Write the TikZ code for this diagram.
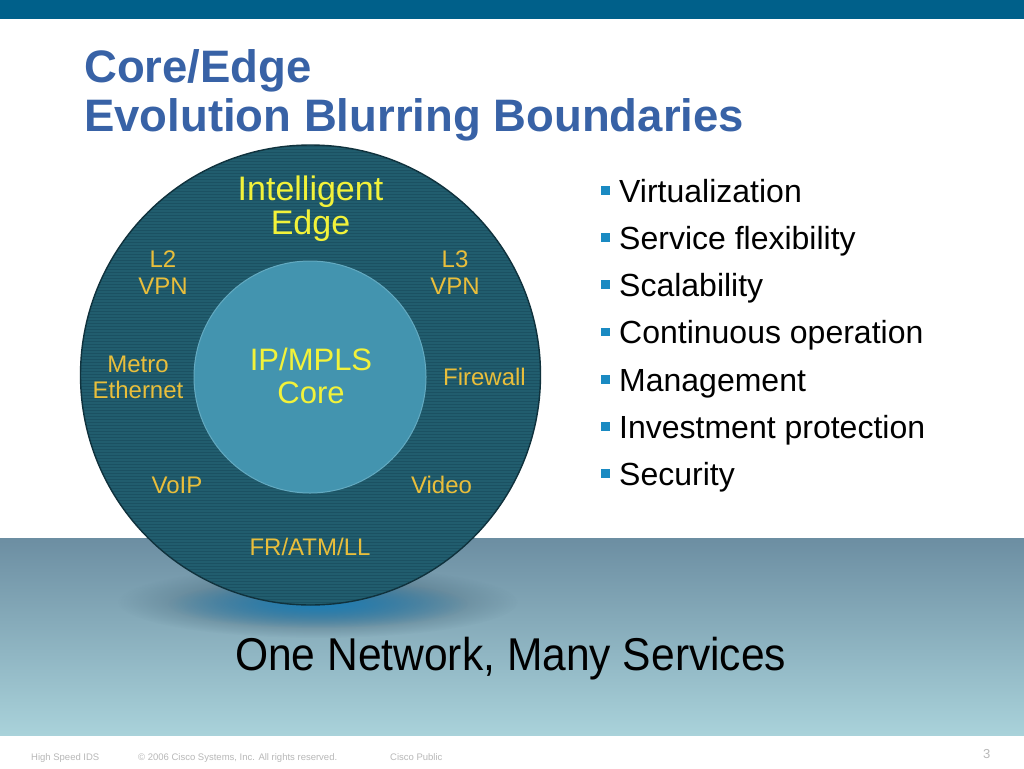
\documentclass[tikz,border=0pt]{standalone}
\usepackage{fontspec}
\setmainfont{Liberation Sans}
\newfontfamily\narrowfont[FakeStretch=0.925]{Liberation Sans}
\usetikzlibrary{fadings}
\tikzfading[name=softfade, inner color=transparent!0, outer color=transparent!100]
\definecolor{topbar}{HTML}{00608A}
\definecolor{titleblue}{HTML}{3862A6}
\definecolor{bandtop}{HTML}{6C8EA2}
\definecolor{bandbot}{HTML}{A9D2DA}
\definecolor{ringfill}{HTML}{215D6E}
\definecolor{ringstripe}{HTML}{1B5162}
\definecolor{ringedge}{HTML}{10323D}
\definecolor{corefill}{HTML}{4394AF}
\definecolor{coreedge}{HTML}{63AAC1}
\definecolor{yellowtxt}{HTML}{F2F23A}
\definecolor{orangetxt}{HTML}{E9BE3B}
\definecolor{bulletblue}{HTML}{1A8AC2}
\definecolor{footgray}{HTML}{B8B8B8}
\definecolor{shadowgray}{HTML}{3A5C70}
\definecolor{shadowblue}{HTML}{1A84C0}
\tikzset{
  txt/.style={anchor=base, inner sep=0pt, outer sep=0pt},
  bigyellow/.style={txt, text=yellowtxt, font=\fontsize{34}{40}\selectfont},
  coreyellow/.style={txt, text=yellowtxt, font=\fontsize{31}{36}\selectfont},
  svc/.style={txt, text=orangetxt, font=\fontsize{24}{28}\selectfont},
  titletxt/.style={anchor=base west, inner sep=0pt, text=titleblue, font=\fontsize{45.5}{50}\selectfont\bfseries},
  bullettxt/.style={anchor=base west, inner sep=0pt, text=black, font=\fontsize{32}{36}\selectfont},
  bulletsq/.style={fill=bulletblue, inner sep=0pt, minimum size=8.5pt, anchor=north west},
  foot/.style={anchor=base west, inner sep=0pt, text=footgray, font=\fontsize{9.5}{11}\selectfont},
}
\begin{document}
\begin{tikzpicture}[x=1pt,y=-1pt]
\useasboundingbox (0,0) rectangle (1024,768);
\fill[white] (0,0) rectangle (1024,768);
% top bar
\fill[topbar] (0,0) rectangle (1024,19);
% band
\shade[top color=bandtop, bottom color=bandbot] (0,538) rectangle (1024,735);
% title
\node[titletxt] (t1) at (84,82) {Core/Edge};
\node[titletxt] (t2) at (84,131) {Evolution Blurring Boundaries};
% shadow under circle
\fill[shadowgray, path fading=softfade, opacity=0.95] (318,602) ellipse [x radius=200, y radius=36];
\fill[shadowblue, path fading=softfade, opacity=0.9] (318,604) ellipse [x radius=150, y radius=24];
% outer ring
\node[circle, fill=ringfill, minimum size=460pt, inner sep=0pt] (edge) at (310.5,375) {};
\begin{scope}
  \clip (edge.center) circle [radius=230];
  \foreach \yy in {146,149,...,606} {
    \draw[ringstripe, line width=0.8pt] (80,\yy) -- (542,\yy);
  }
\end{scope}
\draw[ringedge, line width=1.4pt] (edge.center) circle [radius=230];
% inner core
\node[circle, fill=corefill, draw=coreedge, line width=1pt, minimum size=232pt, inner sep=0pt] (core) at (310,377) {};
% labels
\node[bigyellow] (ie1) at (310.5,200) {Intelligent};
\node[bigyellow] (ie2) at (310.5,234) {Edge};
\node[svc] (l2a) at (163,267) {L2};
\node[svc] (l2b) at (163,294) {VPN};
\node[svc] (l3a) at (455,267) {L3};
\node[svc] (l3b) at (455,294) {VPN};
\node[svc] (me1) at (138,372) {Metro};
\node[svc] (me2) at (138,398) {Ethernet};
\node[coreyellow] (c1) at (311,370) {IP/MPLS};
\node[coreyellow] (c2) at (311,403) {Core};
\node[svc] (fw) at (484.5,385) {Firewall};
\node[svc] (voip) at (177,493) {VoIP};
\node[svc] (vid) at (441.5,493) {Video};
\node[svc] (fr) at (310,555) {FR/ATM/LL};
% bullets
\foreach \yy/\nm/\tx in {202/b1/Virtualization, 249/b2/Service flexibility, 296/b3/Scalability, 343.5/b4/Continuous operation, 391/b5/Management, 438/b6/Investment protection, 485/b7/Security} {
  \node[bulletsq] (\nm sq) at (601,\yy-16) {};
  \node[bullettxt] (\nm) at (619,\yy) {\tx};
}
% slogan
\node[anchor=base west, inner sep=0pt, text=black, font=\narrowfont\fontsize{46}{52}\selectfont] (slogan) at (235,670) {One Network, Many Services};
% footer
\node[foot] (f1) at (31,760) {High Speed IDS};
\node[foot] (f2) at (138,760) {\textcopyright\ 2006 Cisco Systems, Inc. All rights reserved.};
\node[foot] (f3) at (390,760) {Cisco Public};
\node[anchor=base west, inner sep=0pt, text=footgray, font=\fontsize{13}{15}\selectfont] (pg) at (983,758) {3};
\end{tikzpicture}
\end{document}
